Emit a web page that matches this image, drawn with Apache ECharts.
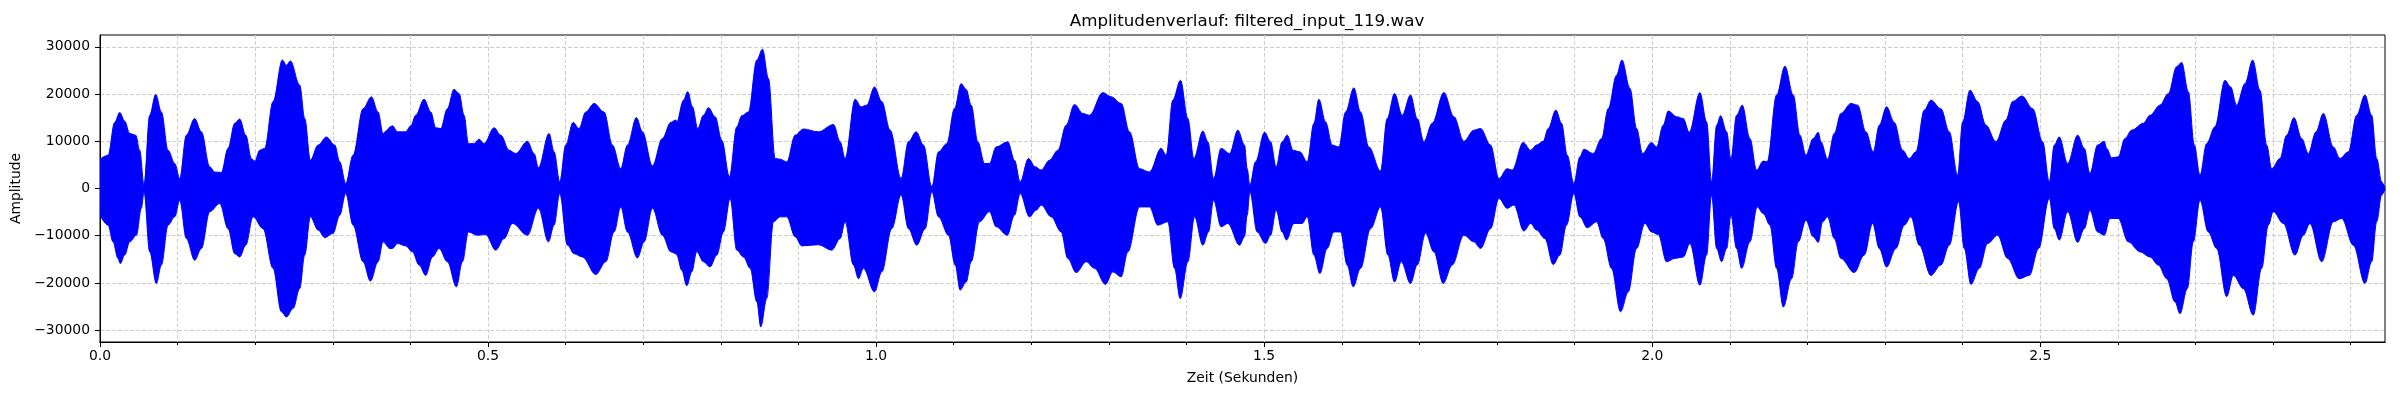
<!DOCTYPE html>
<html>
<head>
<meta charset="utf-8">
<title>Amplitudenverlauf</title>
<script src="https://cdn.jsdelivr.net/npm/echarts@6/dist/echarts.min.js"></script>
<style>
  html, body { margin: 0; padding: 0; background: #fff; }
  #chart { width: 2400px; height: 400px; }
</style>
</head>
<body>
<div id="chart"></div>
<script>
// Hüllkurve des Signals: [Zeit in s, Amplitude]
const upperEnvelope = [
  [0.0000, 6200], [0.0104, 7060], [0.0189, 14000], [0.0254, 16100], [0.0318, 14260], [0.0383, 11650], [0.0460, 11300], [0.0512, 8100], [0.0567, 700], [0.0640, 15500],
  [0.0718, 19900], [0.0791, 16200], [0.0877, 8100], [0.0963, 5300], [0.1027, 2100], [0.1113, 11300], [0.1220, 14800], [0.1306, 12000], [0.1414, 4600], [0.1478, 3500],
  [0.1564, 3400], [0.1650, 8500], [0.1736, 13800], [0.1800, 14700], [0.1878, 11300], [0.1951, 6350], [0.1994, 5800], [0.2058, 8100], [0.2122, 8500], [0.2230, 18400],
  [0.2350, 27200], [0.2402, 26100], [0.2453, 27000], [0.2573, 21900], [0.2638, 14800], [0.2711, 6000], [0.2810, 9200], [0.2917, 10900], [0.3024, 9200], [0.3089, 5650],
  [0.3166, 1060], [0.3261, 7060], [0.3390, 16900], [0.3497, 19400], [0.3583, 16200], [0.3647, 11650], [0.3699, 12350], [0.3733, 13000],
  [0.3768, 13270], [0.3832, 12000], [0.3939, 12000], [0.4004, 13270], [0.4068, 15500], [0.4176, 18900], [0.4262, 16200], [0.4326, 12850], [0.4390, 12700], [0.4476, 16900],
  [0.4562, 21000], [0.4627, 20100], [0.4691, 15500], [0.4747, 9500], [0.4820, 9500], [0.4884, 10450], [0.4949, 9500], [0.5078, 12850], [0.5164, 11300], [0.5271, 8100],
  [0.5357, 7400], [0.5507, 10000], [0.5593, 7400], [0.5649, 4400], [0.5786, 11650], [0.5851, 7760], [0.5924, 1400], [0.6001, 9200], [0.6096, 14000], [0.6173, 12700],
  [0.6259, 16200], [0.6366, 18000], [0.6495, 16200], [0.6603, 9200], [0.6710, 4200], [0.6796, 9200], [0.6912, 15000], [0.6989, 12000], [0.7118, 4800], [0.7247, 10600],
  [0.7354, 14000], [0.7419, 14500],
  [0.7432, 14100], [0.7518, 18700], [0.7573, 20500], [0.7634, 17300], [0.7702, 12700], [0.7775, 15500], [0.7840, 17100], [0.7926, 15200], [0.8012, 10200], [0.8110, 2500],
  [0.8205, 13060], [0.8269, 15400], [0.8355, 16200], [0.8463, 27200], [0.8536, 29500], [0.8613, 23300], [0.8699, 6350], [0.8763, 6200], [0.8849, 5650], [0.8957, 11300],
  [0.9064, 12600], [0.9257, 12000], [0.9451, 13550], [0.9537, 9900], [0.9601, 6350], [0.9730, 18900], [0.9807, 17300], [0.9880, 17650], [0.9979, 21500], [1.0073, 18400],
  [1.0181, 12350], [1.0322, 2100], [1.0417, 9900], [1.0516, 12000], [1.0610, 9200], [1.0718, 350], [1.0804, 7760], [1.0911, 9500], [1.1010, 16900], [1.1096, 22200],
  [1.1160, 21000], [1.1225, 17650], [1.1311, 9900], [1.1397, 5300], [1.1461, 5300], [1.1547, 8800], [1.1697, 9900], [1.1783, 6000], [1.1856, 1400], [1.1963, 6350],
  [1.2049, 4600], [1.2127, 3900], [1.2234, 6000], [1.2342, 8100], [1.2449, 13400], [1.2556, 17800], [1.2664, 15900], [1.2750, 15500], [1.2921, 20300], [1.3029, 19400],
  [1.3158, 18000], [1.3265, 12000], [1.3394, 4200], [1.3523, 3500], [1.3673, 8500], [1.3738, 7060], [1.3823, 18700], [1.3922, 22900], [1.4017, 14800], [1.4094, 6350],
  [1.4210, 12150], [1.4275, 9900], [1.4348, 2100], [1.4446, 8500], [1.4554, 7400], [1.4661, 12350], [1.4747, 9200],
  [1.4781, 4200], [1.4816, 700], [1.4889, 5650], [1.5005, 11900], [1.5082, 9900], [1.5155, 4600], [1.5232, 9900], [1.5297, 11300], [1.5374, 8100], [1.5460, 7760],
  [1.5555, 5650], [1.5641, 13800], [1.5705, 18900], [1.5791, 14100], [1.5877, 9200], [1.5963, 8800], [1.6049, 16200], [1.6156, 21300], [1.6242, 16200], [1.6349, 8800],
  [1.6500, 3700], [1.6585, 14800], [1.6680, 20100], [1.6779, 15500], [1.6886, 19800], [1.6972, 14800], [1.7058, 9900], [1.7165, 13800], [1.7316, 20300], [1.7445, 15200],
  [1.7573, 10000], [1.7702, 12350], [1.7788, 12700], [1.7917, 9200], [1.8025, 2100], [1.8132, 4200], [1.8196, 3900], [1.8338, 9750], [1.8433, 8100],
  [1.8510, 9200], [1.8596, 10000], [1.8660, 12700], [1.8759, 16600], [1.8832, 13800], [1.8905, 7060], [1.8991, 1060], [1.9068, 6700], [1.9120, 8300], [1.9240, 7400],
  [1.9348, 10600], [1.9433, 16900], [1.9541, 24000], [1.9610, 27200], [1.9713, 21200], [1.9799, 12700], [1.9876, 7400], [1.9992, 9750], [2.0057, 8800], [2.0142, 13400],
  [2.0207, 16400], [2.0314, 15200], [2.0400, 14800], [2.0477, 11900], [2.0615, 20300], [2.0701, 14100], [2.0765, 1400], [2.0830, 13400], [2.0881, 15400], [2.0959, 12000],
  [2.1014, 6200], [2.1087, 15500], [2.1160, 17650], [2.1259, 10600], [2.1345, 3900], [2.1431, 5800], [2.1482, 5650], [2.1603, 19800], [2.1710, 25900], [2.1817, 19800],
  [2.1903, 11300], [2.1981, 7060], [2.2075, 10600], [2.2140, 11900],
  [2.2174, 9900], [2.2260, 6200], [2.2346, 11650], [2.2432, 15900], [2.2561, 18000], [2.2647, 17650], [2.2754, 12000], [2.2848, 7760], [2.2926, 13400], [2.3020, 17300],
  [2.3119, 14000], [2.3226, 8100], [2.3312, 6350], [2.3398, 7760], [2.3506, 16600], [2.3591, 18700], [2.3720, 16900], [2.3828, 12000], [2.3935, 2800], [2.4000, 14100],
  [2.4094, 20800], [2.4193, 18400], [2.4300, 13400], [2.4429, 9900], [2.4558, 14500], [2.4644, 18400], [2.4764, 19600], [2.4902, 16900], [2.5031, 9900], [2.5116, 1400],
  [2.5181, 9200], [2.5245, 10900], [2.5353, 5300], [2.5482, 11300], [2.5567, 8500], [2.5640, 3200], [2.5739, 9200], [2.5825, 10000],
  [2.5855, 8500], [2.5920, 6500], [2.6005, 6700], [2.6092, 10600], [2.6178, 12350], [2.6328, 13800], [2.6414, 15500], [2.6543, 17650], [2.6650, 20100], [2.6758, 25800],
  [2.6822, 26700], [2.6908, 20500], [2.6985, 9200], [2.7058, 2800], [2.7144, 9500], [2.7251, 13060], [2.7380, 22900], [2.7453, 21500], [2.7530, 17650], [2.7638, 22200],
  [2.7737, 27200], [2.7831, 20800], [2.7917, 9200], [2.7982, 4200], [2.8089, 6350], [2.8175, 11300], [2.8269, 15000], [2.8368, 10600], [2.8454, 7400], [2.8553, 12000],
  [2.8647, 15900], [2.8776, 8800], [2.8862, 6350], [2.8970, 7760], [2.9077, 15500], [2.9184, 19800], [2.9270, 15500], [2.9335, 6350], [2.9399, 1400], [2.9442, 0]
];

const lowerEnvelope = [
  [0.0000, -5650], [0.0104, -7760], [0.0168, -11300], [0.0232, -14800], [0.0262, -15900], [0.0318, -14100], [0.0383, -11300], [0.0469, -9900], [0.0533, -4200], [0.0567, -700],
  [0.0640, -13400], [0.0726, -20100], [0.0791, -16200], [0.0877, -7760], [0.0963, -6000], [0.1027, -2500], [0.1113, -10600], [0.1220, -15200], [0.1306, -12700], [0.1414, -4900],
  [0.1543, -3200], [0.1650, -8500], [0.1736, -13800], [0.1800, -14500], [0.1878, -12000], [0.1972, -6000], [0.2101, -8500], [0.2230, -16900], [0.2337, -26100], [0.2402, -27200],
  [0.2488, -25400], [0.2573, -21200], [0.2638, -14100], [0.2711, -6000], [0.2810, -8800], [0.2896, -10400], [0.3003, -9500], [0.3089, -5650], [0.3166, -1060], [0.3261, -7760],
  [0.3390, -15500], [0.3484, -19600], [0.3583, -15500], [0.3647, -11300], [0.3733, -12700],
  [0.3768, -12700], [0.3832, -11650], [0.3939, -12150], [0.4025, -13400], [0.4111, -16200], [0.4197, -18400], [0.4283, -14500], [0.4369, -12700], [0.4476, -15500], [0.4592, -20800],
  [0.4670, -15500], [0.4747, -9200], [0.4863, -9900], [0.4970, -9750], [0.5099, -13060], [0.5207, -10600], [0.5314, -7400], [0.5507, -9900], [0.5649, -4200], [0.5778, -11300],
  [0.5851, -7760], [0.5924, -1060], [0.6023, -12000], [0.6109, -13800], [0.6216, -14500], [0.6388, -18200], [0.6517, -15500], [0.6624, -9200], [0.6710, -3900], [0.6796, -9200],
  [0.6925, -14700], [0.7011, -11300], [0.7118, -4200], [0.7247, -9900], [0.7354, -13400], [0.7419, -13800],
  [0.7432, -14100], [0.7496, -17300], [0.7561, -20600], [0.7625, -17650], [0.7689, -13400], [0.7775, -15500], [0.7861, -16600], [0.7947, -14100], [0.8033, -9200], [0.8119, -2100],
  [0.8205, -13060], [0.8291, -14500], [0.8377, -16900], [0.8463, -24000], [0.8514, -29300], [0.8591, -23300], [0.8677, -7060], [0.8763, -6000], [0.8849, -6000], [0.8957, -10200],
  [0.9042, -12150], [0.9257, -11900], [0.9429, -13060], [0.9537, -10600], [0.9601, -7060], [0.9708, -16200], [0.9773, -19100], [0.9837, -16900], [0.9979, -21900], [1.0073, -17650],
  [1.0202, -8500], [1.0322, -1400], [1.0417, -8500], [1.0524, -12000], [1.0632, -8500], [1.0718, -700], [1.0804, -6000], [1.0933, -9900], [1.1019, -16200], [1.1083, -21500],
  [1.1160, -19800], [1.1225, -15500], [1.1332, -7060], [1.1461, -4900], [1.1547, -8100], [1.1689, -9900], [1.1783, -5650], [1.1856, -1060], [1.1976, -6000], [1.2062, -4600],
  [1.2127, -3500], [1.2256, -6000], [1.2384, -9200], [1.2470, -14800], [1.2578, -17800], [1.2707, -15500], [1.2814, -16900], [1.2956, -20300], [1.3050, -17650], [1.3158, -18700],
  [1.3244, -13400], [1.3394, -3900], [1.3523, -3900], [1.3630, -7760], [1.3759, -7060], [1.3845, -16900], [1.3918, -23300], [1.4017, -15500], [1.4103, -6000], [1.4210, -12000],
  [1.4283, -9200], [1.4348, -2500], [1.4446, -8100], [1.4532, -7400], [1.4683, -12000], [1.4747, -10200],
  [1.4781, -5650], [1.4816, -700], [1.4910, -9200], [1.5018, -11650], [1.5082, -9900], [1.5155, -4600], [1.5232, -9200], [1.5288, -10900], [1.5383, -7400], [1.5490, -7400],
  [1.5555, -6000], [1.5641, -14100], [1.5718, -18000], [1.5812, -12700], [1.5898, -9200], [1.5984, -9200], [1.6070, -16200], [1.6147, -20800], [1.6242, -16900], [1.6371, -8500],
  [1.6500, -3900], [1.6594, -14100], [1.6680, -19800], [1.6766, -15500], [1.6886, -20100], [1.6972, -16200], [1.7080, -9500], [1.7187, -13400], [1.7307, -20100], [1.7423, -16200],
  [1.7573, -9900], [1.7702, -11300], [1.7788, -12700], [1.7917, -8500], [1.8025, -2100], [1.8132, -4200], [1.8218, -3500], [1.8347, -9000], [1.8433, -7400],
  [1.8510, -8800], [1.8617, -10600], [1.8725, -16100], [1.8810, -14100], [1.8896, -7760], [1.8991, -1060], [1.9068, -6000], [1.9163, -8300], [1.9283, -7060], [1.9369, -10600],
  [1.9476, -16900], [1.9592, -26100], [1.9691, -21900], [1.9799, -12700], [1.9906, -7400], [1.9992, -9200], [2.0078, -9750], [2.0185, -15500], [2.0292, -14800], [2.0400, -14500],
  [2.0486, -11650], [2.0615, -20500], [2.0701, -14100], [2.0765, -1400], [2.0830, -12700], [2.0894, -15500], [2.0959, -12700], [2.1014, -5650], [2.1087, -12700], [2.1152, -16900],
  [2.1259, -11300], [2.1353, -3900], [2.1431, -5300], [2.1517, -7760], [2.1603, -16900], [2.1689, -25100], [2.1796, -19100], [2.1882, -11300], [2.1981, -6700], [2.2075, -10200],
  [2.2140, -11400],
  [2.2195, -7060], [2.2260, -6000], [2.2346, -10600], [2.2432, -14800], [2.2603, -17800], [2.2732, -14100], [2.2840, -7400], [2.2926, -12700], [2.3020, -16600], [2.3140, -12700],
  [2.3248, -7760], [2.3334, -6000], [2.3441, -12000], [2.3591, -18400], [2.3720, -16200], [2.3828, -12000], [2.3948, -2800], [2.4021, -12700], [2.4107, -20300], [2.4214, -16900],
  [2.4322, -11650], [2.4451, -9900], [2.4579, -14800], [2.4730, -19100], [2.4859, -18400], [2.4979, -12700], [2.5116, -2100], [2.5181, -8500], [2.5245, -10900], [2.5353, -4900],
  [2.5482, -11400], [2.5567, -8500], [2.5640, -4600], [2.5739, -9200], [2.5825, -9900],
  [2.5898, -6350], [2.6005, -6350], [2.6134, -11300], [2.6285, -13400], [2.6414, -14500], [2.6521, -16200], [2.6629, -19100], [2.6736, -24000], [2.6800, -26500], [2.6895, -21200],
  [2.6972, -11300], [2.7058, -2500], [2.7165, -9200], [2.7273, -12700], [2.7402, -22900], [2.7488, -18400], [2.7617, -21200], [2.7745, -26800], [2.7853, -16900], [2.7938, -7760],
  [2.8003, -4900], [2.8132, -7400], [2.8282, -14100], [2.8390, -9900], [2.8475, -7400], [2.8626, -15500], [2.8776, -7060], [2.8884, -6350], [2.9034, -12000], [2.9184, -20100],
  [2.9270, -15500], [2.9335, -7060], [2.9399, -1400], [2.9442, 0]
];

const xMajorTicks = [0, 0.5, 1.0, 1.5, 2.0, 2.5];
const xMinorTicks = [0, 0.1, 0.2, 0.3, 0.4, 0.5, 0.6, 0.7, 0.8, 0.9, 1.0, 1.1, 1.2, 1.3, 1.4, 1.5,
  1.6, 1.7, 1.8, 1.9, 2.0, 2.1, 2.2, 2.3, 2.4, 2.5, 2.6, 2.7, 2.8, 2.9];
const yTicks = [-30000, -20000, -10000, 0, 10000, 20000, 30000];

const timeMax = 2.9442;
const fontFamily = 'DejaVu Sans';
const blue = '#0000ff';
const gridLine = { show: true, lineStyle: { color: '#cdcdcd', width: 1, type: [4, 2] } };

const chart = echarts.init(document.getElementById('chart'), null, { renderer: 'canvas' });

// beide Hälften überlappen leicht an der Nulllinie, damit keine Naht sichtbar bleibt
function envelopeSeries(data, origin) {
  return {
    type: 'line',
    data: data,
    showSymbol: false,
    symbol: 'none',
    smooth: 0.35,
    smoothMonotone: 'x',
    lineStyle: { color: blue, width: 1 },
    areaStyle: { color: blue, opacity: 1, origin: origin },
    z: 3
  };
}

chart.setOption({
  animation: false,
  backgroundColor: '#ffffff',
  textStyle: { fontFamily: fontFamily, color: '#000' },
  title: {
    text: 'Amplitudenverlauf: filtered_input_119.wav',
    left: 1242,
    top: 8,
    textAlign: 'center',
    textStyle: { fontFamily: fontFamily, fontSize: 16.7, fontWeight: 'normal', color: '#000' }
  },
  grid: {
    left: 100,
    right: 15,
    top: 35,
    bottom: 58,
    show: true,
    borderColor: '#000',
    borderWidth: 1,
    backgroundColor: 'transparent'
  },
  xAxis: [
    {
      type: 'value',
      min: 0,
      max: timeMax,
      interval: 0.1,
      axisLine: { show: true, onZero: false, lineStyle: { color: '#000', width: 1 } },
      axisTick: { show: true, length: 3, customValues: xMinorTicks, lineStyle: { color: '#000', width: 1 } },
      axisLabel: { show: false },
      splitLine: gridLine
    },
    {
      type: 'value',
      position: 'bottom',
      min: 0,
      max: timeMax,
      interval: 0.5,
      name: 'Zeit (Sekunden)',
      nameLocation: 'middle',
      nameGap: 29,
      nameTextStyle: { fontFamily: fontFamily, fontSize: 13.9, color: '#000' },
      axisLine: { show: true, onZero: false, lineStyle: { color: '#000', width: 1 } },
      axisTick: { show: true, length: 5, customValues: xMajorTicks, lineStyle: { color: '#000', width: 1 } },
      axisLabel: {
        show: true,
        customValues: xMajorTicks,
        margin: 7,
        fontFamily: fontFamily,
        fontSize: 13.9,
        color: '#000',
        formatter: (v) => v.toFixed(1)
      },
      splitLine: { show: false }
    }
  ],
  yAxis: {
    type: 'value',
    min: -32500,
    max: 32500,
    name: 'Amplitude',
    nameLocation: 'middle',
    nameGap: 74,
    nameTextStyle: { fontFamily: fontFamily, fontSize: 13.9, color: '#000' },
    axisLine: { show: true, lineStyle: { color: '#000', width: 1 } },
    axisTick: { show: true, length: 5, customValues: yTicks, lineStyle: { color: '#000', width: 1 } },
    axisLabel: {
      customValues: yTicks,
      margin: 10,
      fontFamily: fontFamily,
      fontSize: 13.9,
      color: '#000',
      formatter: (v) => String(v).replace('-', '\u2212')
    },
    splitLine: gridLine
  },
  series: [
    envelopeSeries(upperEnvelope, -600),
    envelopeSeries(lowerEnvelope, 600)
  ]
});
</script>
</body>
</html>
